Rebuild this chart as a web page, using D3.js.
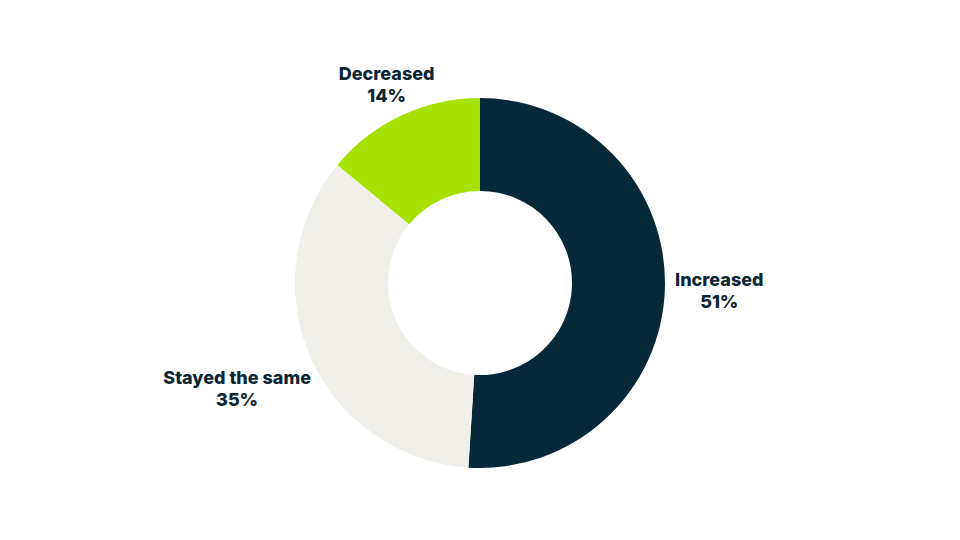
<!DOCTYPE html>
<html>
<head>
<meta charset="utf-8">
<title>Donut</title>
<script src="https://cdn.jsdelivr.net/npm/d3@7"></script>
<style>
  body { margin: 0; background: #fff; }
  .lbl { font-family: Inter, "Open Sans", sans-serif; font-weight: 800; font-size: 18px; fill: #0e2533; }
</style>
</head>
<body>
<script>
// data
var categories = ["Increased", "Stayed the same", "Decreased"];
var values = [51, 35, 14];
var colors = ["#06293a", "#f0efea", "#a8e000"];

var width = 960, height = 540;
var cx = 480, cy = 283;
var outer = 185, inner = 92;

var svg = d3.select("body").append("svg")
  .attr("width", width)
  .attr("height", height);

var g = svg.append("g").attr("transform", "translate(" + cx + "," + cy + ")");

var pie = d3.pie().sort(null).value(function (d) { return d.value; });
var arc = d3.arc().innerRadius(inner).outerRadius(outer);

var rows = categories.map(function (c, i) {
  return { name: c, value: values[i], color: colors[i] };
});
var arcs = pie(rows);

g.selectAll("path")
  .data(arcs)
  .enter()
  .append("path")
  .attr("d", arc)
  .attr("fill", function (d) { return d.data.color; });

// labels: centred on the mid-angle ray, pushed just clear of the ring
var pad = 10;
var labels = g.selectAll("text.lbl")
  .data(arcs)
  .enter()
  .append("text")
  .attr("class", "lbl")
  .attr("text-anchor", "middle");

labels.append("tspan").attr("x", 0).attr("dy", 0).text(function (d) { return d.data.name; });
labels.append("tspan").attr("x", 0).attr("dy", 22).text(function (d) { return d.data.value + "%"; });

labels.each(function (d) {
  var t = d3.select(this);
  var b = this.getBBox();
  var a = (d.startAngle + d.endAngle) / 2;
  var s = Math.sin(a), c = Math.cos(a);
  var r = outer + pad + (b.width / 2) * Math.abs(s) + (b.height / 2) * Math.abs(c) * 0.2;
  var mx = r * s, my = -r * c;
  // shift so the box centre sits at (mx, my)
  var bx = b.x + b.width / 2, by = b.y + b.height / 2;
  t.attr("transform", "translate(" + (mx - bx) + "," + (my - by) + ")");
});
</script>
</body>
</html>
